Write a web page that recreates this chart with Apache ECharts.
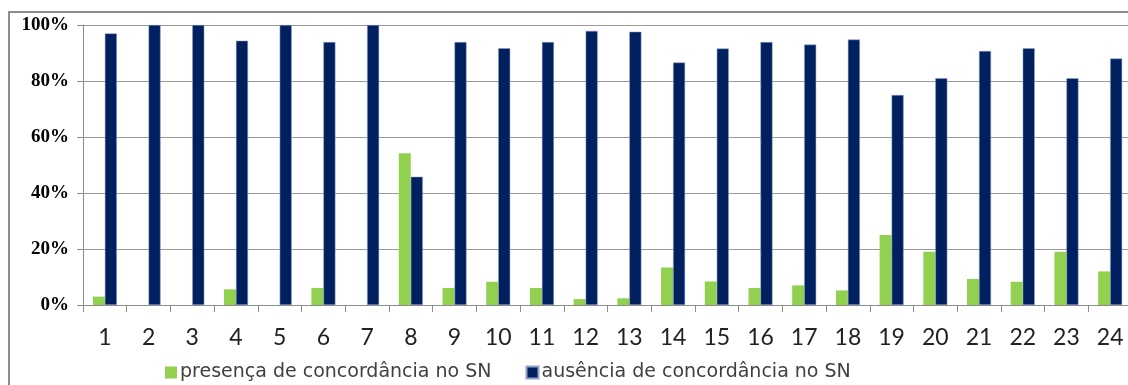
<!DOCTYPE html>
<html>
<head>
<meta charset="utf-8">
<style>
  html, body { margin: 0; padding: 0; background: #fff; overflow: hidden; }
  #chart { width: 1140px; height: 385px; }
</style>
<script src="https://cdn.jsdelivr.net/npm/echarts@6/dist/echarts.min.js"></script>
</head>
<body>
<div id="chart"></div>
<script>
// categories = speakers 1..24
const categories = ['1', '2', '3', '4', '5', '6', '7', '8', '9', '10', '11', '12',
  '13', '14', '15', '16', '17', '18', '19', '20', '21', '22', '23', '24']
// % presence / absence of agreement in the NP
const presenca = [3, 0, 0, 5.6, 0, 6.1, 0, 54.2, 6.1, 8.3, 6.1, 2.1,
  2.4, 13.4, 8.4, 6.1, 7.0, 5.2, 25, 19, 9.3, 8.3, 19, 12]
const ausencia = [97, 100, 100, 94.4, 100, 93.9, 100, 45.8, 93.9, 91.7, 93.9, 97.9,
  97.6, 86.6, 91.6, 93.9, 93.0, 94.8, 75, 81, 90.7, 91.7, 81, 88]
const yTicks = [0, 20, 40, 60, 80, 100]

const seriesNames = ['presença de concordância no SN', 'ausência de concordância no SN']

const chart = echarts.init(document.getElementById('chart'))

chart.setOption({
  animation: false,
  graphic: [
    // outer chart frame (cut off at right/bottom in the original)
    {
      type: 'polyline',
      shape: { points: [[9, 390], [9, 12], [1145, 12]] },
      style: { stroke: '#8c8c8c', lineWidth: 2, fill: null },
      silent: true
    }
  ],
  grid: {
    left: 83,
    right: 8,
    top: 25,
    bottom: 80
  },
  legend: {
    data: seriesNames,
    left: 160,
    top: 358,
    itemWidth: 12,
    itemHeight: 12,
    itemGap: 34,
    icon: 'rect',
    textStyle: {
      fontFamily: 'DejaVu Sans',
      fontSize: 19,
      color: '#404040',
      padding: [0, 0, 0, -2]
    }
  },
  xAxis: {
    type: 'category',
    data: categories,
    axisLine: { lineStyle: { color: '#8c8c8c', width: 1 } },
    axisTick: { show: true, length: 7, lineStyle: { color: '#8c8c8c' } },
    axisLabel: {
      fontFamily: 'Lato',
      fontSize: 23,
      color: '#222',
      margin: 21
    }
  },
  yAxis: {
    type: 'value',
    min: yTicks[0],
    max: yTicks[yTicks.length - 1],
    interval: 20,
    axisLine: { show: true, lineStyle: { color: '#8c8c8c', width: 1 } },
    axisTick: { show: true, length: 6, lineStyle: { color: '#8c8c8c' } },
    splitLine: { lineStyle: { color: '#9a9a9a', width: 1 } },
    axisLabel: {
      formatter: '{value}%',
      fontFamily: 'Liberation Serif',
      fontWeight: 'bold',
      fontSize: 19,
      color: '#000',
      margin: 14
    }
  },
  series: [
    {
      name: seriesNames[0],
      type: 'bar',
      data: presenca,
      barWidth: 12,
      barGap: '0%',
      itemStyle: { color: '#92d050' }
    },
    {
      name: seriesNames[1],
      type: 'bar',
      data: ausencia,
      barWidth: 12,
      itemStyle: { color: '#002060', borderColor: '#8fa3c4', borderWidth: 0.5 }
    }
  ]
})
</script>
</body>
</html>
